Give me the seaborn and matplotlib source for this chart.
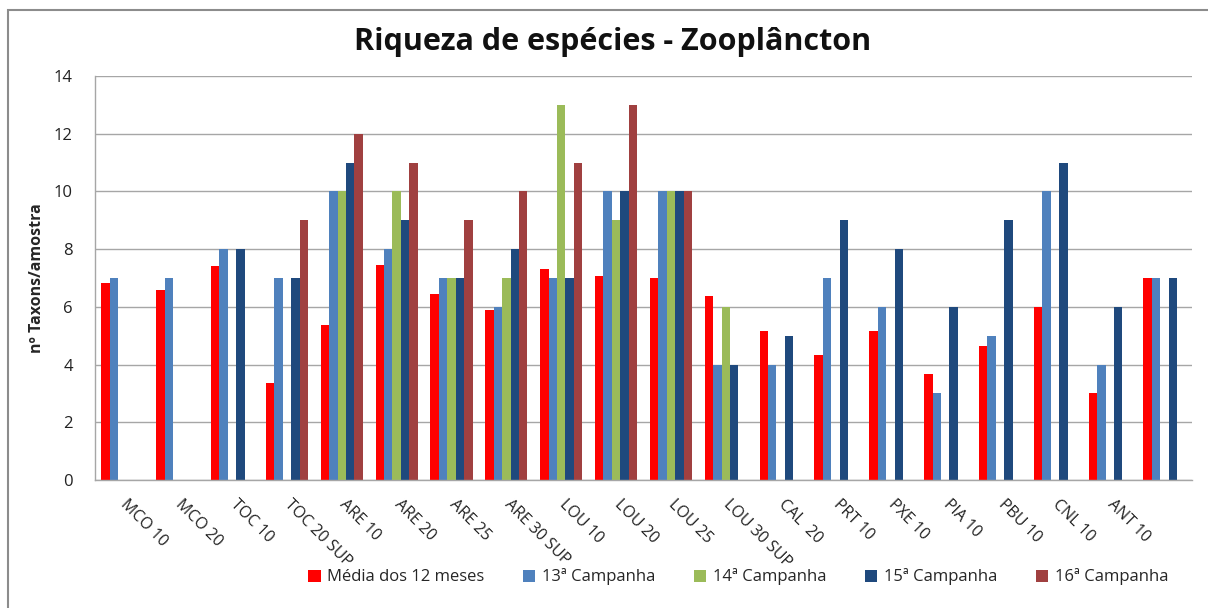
import numpy as np
import pandas as pd
import matplotlib
matplotlib.use("Agg")
import matplotlib.pyplot as plt
import matplotlib.transforms as mtransforms
from matplotlib.patches import Rectangle, Patch
import seaborn as sns

# Sampling stations (the last group carries no label on the axis)
stations = ["MCO 10", "MCO 20", "TOC 10", "TOC 20 SUP", "ARE 10", "ARE 20",
            "ARE 25", "ARE 30 SUP", "LOU 10", "LOU 20", "LOU 25", "LOU 30 SUP",
            "CAL  20", "PRT 10", "PXE 10", "PIA 10", "PBU 10", "CNL 10", "ANT 10", ""]

nan = np.nan
media_12_meses = [6.82, 6.58, 7.4, 3.36, 5.36, 7.45, 6.44, 5.9, 7.3, 7.07,
                  7.0, 6.37, 5.15, 4.33, 5.15, 3.66, 4.66, 6.0, 3.0, 7.0]
campanha_13 = [7, 7, 8, 7, 10, 8, 7, 6, 7, 10, 10, 4, 4, 7, 6, 3, 5, 10, 4, 7]
campanha_14 = [nan, nan, nan, nan, 10, 10, 7, 7, 13, 9, 10, 6,
               nan, nan, nan, nan, nan, nan, nan, nan]
campanha_15 = [nan, nan, 8, 7, 11, 9, 7, 8, 7, 10, 10, 4, 5, 9, 8, 6, 9, 11, 6, 7]
campanha_16 = [nan, nan, nan, 9, 12, 11, 9, 10, 11, 13, 10, nan,
               nan, nan, nan, nan, nan, nan, nan, nan]

series_names = ["Média dos 12 meses", "13ª Campanha", "14ª Campanha",
                "15ª Campanha", "16ª Campanha"]
series_values = [media_12_meses, campanha_13, campanha_14, campanha_15, campanha_16]
colors = ["#FF0000", "#4F81BD", "#9BBB59", "#1F497D", "#A04040"]

# Internal keys keep categories unique; the displayed labels come from `stations`
keys = [f"s{i:02d}" for i in range(len(stations))]
rows = []
for name, vals in zip(series_names, series_values):
    for k, v in zip(keys, vals):
        rows.append({"station": k, "serie": name, "taxons": v})
df = pd.DataFrame(rows)

sns.set_style("white")
plt.rcParams["font.family"] = ["Open Sans", "DejaVu Sans"]

fig = plt.figure(figsize=(12.08, 6.08), dpi=100)
ax = fig.add_axes([95 / 1208, 1 - 480 / 608, (1192 - 95) / 1208, (480 - 76) / 608])

sns.barplot(data=df, x="station", y="taxons", hue="serie", order=keys,
            hue_order=series_names, palette=colors, width=0.77,
            errorbar=None, linewidth=0, saturation=1, legend=False, ax=ax)

ax.set_ylim(0, 14)
ax.set_xlim(-0.5, len(keys) - 0.5)
ax.set_yticks(np.arange(0, 15, 2))
ax.yaxis.grid(True, color="#A6A6A6", linewidth=1.0)
ax.set_axisbelow(True)
for side in ["top", "right"]:
    ax.spines[side].set_visible(False)
for side in ["left", "bottom"]:
    ax.spines[side].set_color("#A6A6A6")
    ax.spines[side].set_linewidth(1.0)
ax.tick_params(axis="both", length=0, colors="#222222")
ax.tick_params(axis="y", labelsize=12, pad=16)

ax.set_xticks(range(len(keys)))
ax.set_xticklabels(stations, rotation=-45, ha="left", va="top",
                   rotation_mode="anchor", fontsize=11.5, color="#222222")
ax.tick_params(axis="x", pad=12)
shift = mtransforms.ScaledTranslation(6 / 100, 0, fig.dpi_scale_trans)
for lbl in ax.get_xticklabels():
    lbl.set_transform(lbl.get_transform() + shift)

ax.set_xlabel("")
ax.set_ylabel("nº Taxons/amostra", fontsize=11.5, fontweight="bold", labelpad=6)

fig.text(0.507, 1 - 42 / 608, "Riqueza de espécies - Zooplâncton",
         ha="center", va="center", fontsize=22, fontweight="bold", color="#111111")

handles = [Patch(facecolor=c, edgecolor="none") for c in colors]
fig.legend(handles, series_names, loc="center", bbox_to_anchor=(0.611, 1 - 577 / 608),
           ncol=5, frameon=False, fontsize=12, handlelength=0.75, handleheight=0.75,
           handletextpad=0.4, columnspacing=2.3)

# Chart-area frame
fig.patches.append(Rectangle((8 / 1208, -0.1), 1.2, 1.1 - 10 / 608,
                             transform=fig.transFigure, fill=False,
                             edgecolor="#8C8C8C", linewidth=1.5))

fig.savefig("out.png", dpi=100, facecolor="white")
